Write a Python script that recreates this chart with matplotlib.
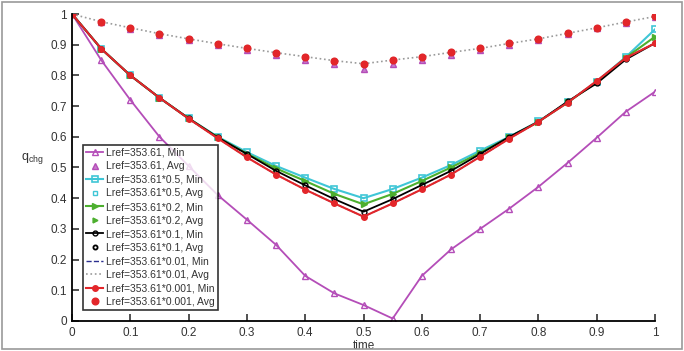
import matplotlib.pyplot as plt
from matplotlib.patches import Rectangle
import numpy as np

plt.rcParams['font.family'] = ['Liberation Sans', 'DejaVu Sans']

time = [0.0, 0.05, 0.1, 0.15, 0.2, 0.25, 0.3, 0.35, 0.4, 0.45, 0.5,
        0.55, 0.6, 0.65, 0.7, 0.75, 0.8, 0.85, 0.9, 0.95, 1.0]

# Lref=353.61
base_min = [1.0, 0.85, 0.72, 0.60, 0.505, 0.41, 0.33, 0.248, 0.147, 0.09, 0.052,
            0.008, 0.147, 0.233, 0.30, 0.366, 0.437, 0.515, 0.597, 0.682, 0.747]
base_avg = [1.0, 0.973, 0.952, 0.932, 0.915, 0.898, 0.882, 0.866, 0.851, 0.837, 0.822,
            0.836, 0.849, 0.866, 0.884, 0.900, 0.916, 0.934, 0.953, 0.972, 0.99]
# Lref=353.61*0.5
half_min = [1.0, 0.887, 0.80, 0.727, 0.66, 0.60, 0.55, 0.505, 0.467, 0.43, 0.40,
            0.43, 0.467, 0.508, 0.555, 0.60, 0.65, 0.712, 0.78, 0.86, 0.95]
# Lref=353.61*0.2
fifth_min = [1.0, 0.887, 0.80, 0.727, 0.66, 0.598, 0.545, 0.497, 0.456, 0.414, 0.38,
             0.414, 0.456, 0.50, 0.548, 0.598, 0.649, 0.712, 0.778, 0.858, 0.926]
# Lref=353.61*0.1
tenth_min = [1.0, 0.887, 0.80, 0.727, 0.66, 0.598, 0.544, 0.489, 0.442, 0.397, 0.356,
             0.397, 0.443, 0.489, 0.544, 0.60, 0.649, 0.715, 0.774, 0.852, 0.905]
# Lref=353.61*0.001 (and 0.01)
milli_min = [1.0, 0.887, 0.80, 0.727, 0.659, 0.595, 0.533, 0.477, 0.428, 0.383, 0.34,
             0.383, 0.429, 0.477, 0.535, 0.594, 0.649, 0.711, 0.782, 0.857, 0.905]
top_avg = [1.0, 0.975, 0.955, 0.936, 0.919, 0.903, 0.888, 0.874, 0.861, 0.848, 0.838,
           0.850, 0.861, 0.875, 0.888, 0.904, 0.919, 0.937, 0.955, 0.974, 0.992]

purple = '#B44DB8'
cyan = '#3FC6D6'
green = '#4CAF2E'
red = '#E3262A'

fig = plt.figure(figsize=(6.84, 3.51), dpi=100)
ax = fig.add_axes([0.1053, 0.0855, 0.8523, 0.8746])

ax.plot(time, base_min, color=purple, lw=1.3, marker='^', ms=5, mfc='none', mec=purple,
        label='Lref=353.61, Min')
ax.plot(time, base_avg, ls='none', marker='^', ms=4.5, color=purple, mfc='#C77BCB',
        label='Lref=353.61, Avg')
ax.plot(time, half_min, color=cyan, lw=1.5, marker='s', ms=4.5, mfc='none', mec=cyan, mew=1.2,
        label='Lref=353.61*0.5, Min')
ax.plot(time, top_avg, ls='none', marker='s', ms=3, mfc='none', mec=cyan, mew=1.0,
        label='Lref=353.61*0.5, Avg')
ax.plot(time, fifth_min, color=green, lw=1.5, marker='>', ms=5, mfc=green, mec=green,
        label='Lref=353.61*0.2, Min')
ax.plot(time, top_avg, ls='none', marker='>', ms=3.5, mfc=green, mec=green,
        label='Lref=353.61*0.2, Avg')
ax.plot(time, tenth_min, color='black', lw=1.3, marker='o', ms=3.5, mfc='none', mec='black',
        mew=1.0, label='Lref=353.61*0.1, Min')
ax.plot(time, top_avg, ls='none', marker='o', ms=3, mfc='none', mec='black', mew=1.3,
        label='Lref=353.61*0.1, Avg')
ax.plot(time, milli_min, color='#2B2F8F', lw=1.0, ls='--',
        label='Lref=353.61*0.01, Min')
ax.plot(time, top_avg, color='#9A9A9A', lw=1.2, ls=':',
        label='Lref=353.61*0.01, Avg')
ax.plot(time, milli_min, color=red, lw=1.5, marker='o', ms=4, mfc=red, mec=red,
        label='Lref=353.61*0.001, Min')
ax.plot(time, top_avg, ls='none', marker='o', ms=4.8, mfc=red, mec=red,
        label='Lref=353.61*0.001, Avg')

ax.set_xlim(0, 1)
ax.set_ylim(0, 1)
ticks = np.arange(0, 1.01, 0.1)
tick_labels = ['0', '0.1', '0.2', '0.3', '0.4', '0.5', '0.6', '0.7', '0.8', '0.9', '1']
ax.set_xticks(ticks)
ax.set_yticks(ticks)
ax.set_xticklabels(tick_labels)
ax.set_yticklabels(tick_labels)
ax.tick_params(direction='in', length=5, width=1.2, labelsize=8.5, colors='#333333')
ax.tick_params(axis='x', pad=4)
for s in ['top', 'right']:
    ax.spines[s].set_visible(False)
for s in ['left', 'bottom']:
    ax.spines[s].set_linewidth(1.3)

ax.set_xlabel('time', fontsize=8.5, color='#333333', labelpad=1)
ax.set_ylabel('$\\mathregular{q_{chg}}$', fontsize=9, color='#333333', rotation=0,
              va='center')
ax.yaxis.set_label_coords(-0.068, 0.53)

leg = ax.legend(loc='lower left', bbox_to_anchor=(0.019, 0.036), fontsize=7.5,
                frameon=True, fancybox=False, edgecolor='black', handlelength=1.6,
                handletextpad=0.3, borderpad=0.3, labelspacing=0.34, borderaxespad=0)
leg.get_frame().set_linewidth(1.2)
for t in leg.get_texts():
    t.set_color('#333333')

fig.add_artist(Rectangle((0.003, 0.006), 0.994, 0.988, transform=fig.transFigure,
                         fill=False, edgecolor='#999999', lw=1.2))

fig.savefig('out.png', dpi=100)
